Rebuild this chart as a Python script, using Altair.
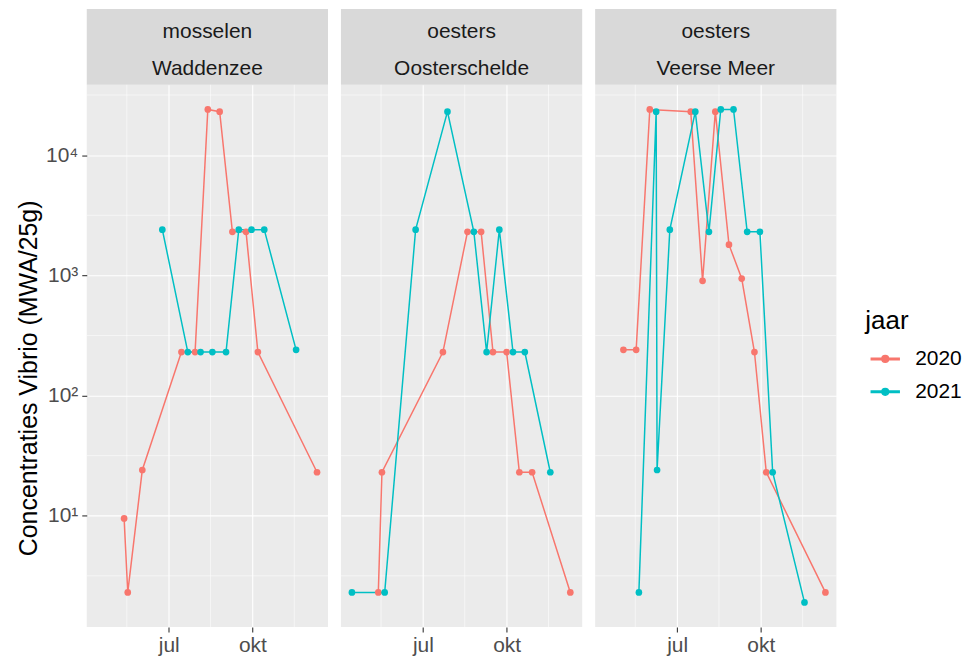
import altair as alt
import pandas as pd
import numpy as np

# ---------------- data ----------------
soort = ["mosselen", "oesters", "oesters"]
locatie = ["Waddenzee", "Oosterschelde", "Veerse Meer"]
jaren = ["2020", "2021"]
kleuren = ["#F8766D", "#00BFC4"]
plot_jaar = "2021"  # all dates shown on a common calendar year

wad_2020_datum = ["05-13", "05-17", "06-02", "07-15", "07-30", "08-13", "08-26", "09-09", "09-24", "10-07", "12-11"]
wad_2020_waarde = [9.5, 2.3, 24, 230, 230, 24000, 23000, 2300, 2300, 230, 23]
wad_2021_datum = ["06-24", "07-22", "08-05", "08-18", "09-02", "09-16", "09-30", "10-14", "11-18"]
wad_2021_waarde = [2400, 230, 230, 230, 230, 2400, 2400, 2400, 240]

oos_2020_datum = ["05-13", "05-17", "07-23", "08-19", "09-03", "09-16", "10-01", "10-15", "10-29", "12-10"]
oos_2020_waarde = [2.3, 23, 230, 2300, 2300, 230, 230, 23, 23, 2.3]
oos_2021_datum = ["04-14", "05-20", "06-23", "07-28", "08-26", "09-09", "09-23", "10-08", "10-21", "11-18"]
oos_2021_waarde = [2.3, 2.3, 2400, 23000, 2300, 230, 2400, 230, 230, 23]

vee_2020_datum = ["05-03", "05-17", "06-01", "07-16", "07-29", "08-12", "08-27", "09-10", "09-24", "10-07", "12-11"]
vee_2020_waarde = [240, 240, 24000, 23000, 900, 23000, 1800, 940, 230, 23, 2.3]
vee_2021_datum = ["05-20", "06-08", "06-09", "06-23", "07-21", "08-05", "08-18", "09-01", "09-16", "09-30", "10-14", "11-18"]
vee_2021_waarde = [2.3, 23000, 24, 2400, 23000, 2300, 24000, 24000, 2300, 2300, 23, 1.9]

# axis breaks
x_major = ["07-01", "10-01"]
x_major_labels = ["jul", "okt"]
x_minor = ["05-16", "08-16", "11-16"]
y_major = [10, 100, 1000, 10000]
y_major_labels = ["10¹", "10²", "10³", "10⁴"]
y_minor = [3.162, 31.62, 316.2, 3162, 31623]

series = [
    (0, "2020", wad_2020_datum, wad_2020_waarde),
    (0, "2021", wad_2021_datum, wad_2021_waarde),
    (1, "2020", oos_2020_datum, oos_2020_waarde),
    (1, "2021", oos_2021_datum, oos_2021_waarde),
    (2, "2020", vee_2020_datum, vee_2020_waarde),
    (2, "2021", vee_2021_datum, vee_2021_waarde),
]
rows = []
for p, jaar, datums, waarden in series:
    for d, v in zip(datums, waarden):
        rows.append({"panel": p, "jaar": jaar, "datum": f"{plot_jaar}-{d}", "waarde": v})
df = pd.DataFrame(rows)


def to_ms(t):
    return int(pd.Timestamp(t).value // 10**6)


ts = pd.to_datetime(df["datum"])
span = ts.max() - ts.min()
x_domain = [to_ms(ts.min() - 0.05 * span), to_ms(ts.max() + 0.05 * span)]
lv = np.log10(df["waarde"])
rng = lv.max() - lv.min()
y_domain = [float(10 ** (lv.min() - 0.05 * rng)), float(10 ** (lv.max() + 0.05 * rng))]

x_major_ms = [to_ms(f"{plot_jaar}-{d}") for d in x_major]
x_label_expr = " : ".join(
    f"utcmonth(datum.value) == {int(d[:2]) - 1} ? '{lab}'"
    for d, lab in zip(x_major[:-1], x_major_labels[:-1])
) + f" : '{x_major_labels[-1]}'"
y_label_expr = " : ".join(
    f"datum.value == {v} ? '{lab}'" for v, lab in zip(y_major[:-1], y_major_labels[:-1])
) + f" : '{y_major_labels[-1]}'"

FONT = "Liberation Sans"
PW, PH, SH = 242, 544, 76

xscale = alt.Scale(type="utc", domain=x_domain)
yscale = alt.Scale(type="log", domain=y_domain)
cscale = alt.Scale(domain=jaren, range=kleuren)

legend = alt.Legend(
    title="jaar",
    orient="none",
    legendX=781,
    legendY=224,
    titleFontSize=26,
    titleFontWeight="normal",
    titleColor="black",
    titlePadding=10,
    labelFontSize=21,
    labelColor="black",
    labelOffset=15,
    symbolType="M-1,-0.055L1,-0.055L1,0.055L-1,0.055Z M0.24,0A0.24,0.24,0,1,1,-0.24,0A0.24,0.24,0,1,1,0.24,0Z",
    symbolSize=784,
    symbolOffset=5,
    rowPadding=8,
    padding=0,
)


def panel(i):
    d = df[df["panel"] == i]
    xaxis = alt.Axis(
        values=x_major_ms, labelExpr=x_label_expr, grid=True, gridColor="white", gridWidth=1.1,
        ticks=True, tickColor="#333333", tickSize=5, tickWidth=1.1, domain=False,
        labelColor="#4D4D4D", labelFontSize=21, labelPadding=3, title=None, labelFont=FONT,
    )
    if i == 0:
        yaxis = alt.Axis(
            values=y_major, labelExpr=y_label_expr, grid=True, gridColor="white", gridWidth=1.1,
            ticks=True, tickColor="#333333", tickSize=5, tickWidth=1.1, domain=False,
            labelColor="#4D4D4D", labelFontSize=21, labelPadding=4, labelFont=FONT,
            title="Concentraties Vibrio (MWA/25g)", titleFontSize=25, titleFontWeight="normal",
            titleColor="black", titlePadding=4, titleFont=FONT, titleY=PH / 2 + 22,
        )
    else:
        yaxis = alt.Axis(
            values=y_major, grid=True, gridColor="white", gridWidth=1.1,
            ticks=False, labels=False, domain=False, title=None,
        )
    # facet strip (grey box with two lines of text above the panel)
    strip_df = pd.DataFrame({"soort": [soort[i]], "locatie": [locatie[i]]})
    strip_box = alt.Chart(strip_df).mark_rect(color="#D9D9D9").encode(
        x=alt.value(0), x2=alt.value(PW), y=alt.value(-SH), y2=alt.value(0)
    )
    strip_t1 = alt.Chart(strip_df).mark_text(
        fontSize=21, color="#1A1A1A", font=FONT, baseline="middle"
    ).encode(text="soort:N", x=alt.value(PW / 2), y=alt.value(-53))
    strip_t2 = alt.Chart(strip_df).mark_text(
        fontSize=21, color="#1A1A1A", font=FONT, baseline="middle"
    ).encode(text="locatie:N", x=alt.value(PW / 2), y=alt.value(-16))

    xg = alt.Chart(pd.DataFrame({"datum": [f"{plot_jaar}-{m}" for m in x_minor]})).mark_rule(
        color="white", strokeWidth=0.55
    ).encode(x=alt.X("datum:T", scale=xscale, axis=xaxis))
    yg = alt.Chart(pd.DataFrame({"waarde": y_minor})).mark_rule(
        color="white", strokeWidth=0.55
    ).encode(y=alt.Y("waarde:Q", scale=yscale, axis=yaxis))
    base = alt.Chart(d).encode(
        x=alt.X("datum:T", scale=xscale, axis=xaxis),
        y=alt.Y("waarde:Q", scale=yscale, axis=yaxis),
        color=alt.Color("jaar:N", scale=cscale, legend=legend),
    )
    lines = base.mark_line(strokeWidth=1.5, clip=True)
    pts = base.mark_point(filled=True, size=45, opacity=1, clip=True)
    return alt.layer(strip_box, strip_t1, strip_t2, xg, yg, lines, pts).properties(
        width=PW, height=PH, view=alt.ViewBackground(fill="#EBEBEB", stroke=None)
    )


chart = (
    alt.hconcat(*[panel(i) for i in range(3)], spacing=11)
    .resolve_scale(color="shared")
    .resolve_legend(color="shared")
    .properties(padding={"left": 8, "top": 0, "right": 0, "bottom": 0})
    .configure_view(stroke=None)
    .configure(font=FONT)
)

chart.save("out.html", embed_options={"renderer": "svg", "actions": False})
